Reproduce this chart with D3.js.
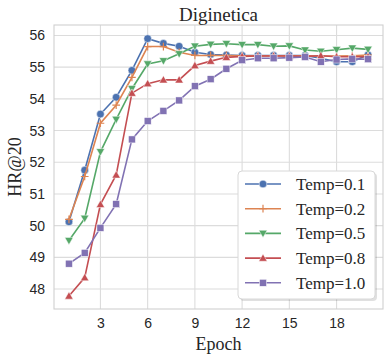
<!DOCTYPE html>
<html><head><meta charset="utf-8">
<script src="https://cdn.jsdelivr.net/npm/d3@7/dist/d3.min.js"></script>
<style>body{margin:0;background:#fff}svg{display:block}</style>
</head><body>
<svg id="c" width="390" height="361"></svg>
<script>
const epochs = d3.range(1, 21);
const seriesNames = ["Temp=0.1", "Temp=0.2", "Temp=0.5", "Temp=0.8", "Temp=1.0"];
const temp01 = [50.12, 51.75, 53.52, 54.05, 54.9, 55.9, 55.75, 55.66, 55.47, 55.4, 55.38, 55.37, 55.37, 55.37, 55.37, 55.37, 55.28, 55.17, 55.17, 55.39];
const temp02 = [50.2, 51.55, 53.23, 53.8, 54.68, 55.65, 55.65, 55.47, 55.37, 55.37, 55.37, 55.36, 55.36, 55.36, 55.36, 55.36, 55.35, 55.35, 55.36, 55.38];
const temp05 = [49.53, 50.23, 52.33, 53.35, 54.32, 55.1, 55.2, 55.42, 55.66, 55.72, 55.74, 55.71, 55.71, 55.66, 55.67, 55.54, 55.5, 55.55, 55.6, 55.56];
const temp08 = [47.78, 48.36, 50.67, 51.6, 54.18, 54.48, 54.6, 54.6, 55.05, 55.19, 55.31, 55.34, 55.35, 55.35, 55.35, 55.34, 55.36, 55.33, 55.33, 55.33];
const temp10 = [48.8, 49.14, 49.93, 50.68, 52.72, 53.3, 53.62, 53.95, 54.4, 54.62, 54.95, 55.22, 55.28, 55.28, 55.3, 55.32, 55.17, 55.24, 55.26, 55.25];
const xTicks = [3, 6, 9, 12, 15, 18];
const yTicks = [48, 49, 50, 51, 52, 53, 54, 55, 56];
const colors = ["#4C72B0", "#DD8452", "#55A868", "#C44E52", "#8172B3"];
const markers = ["circle", "plus", "tridown", "triup", "square"];

const seriesValues = [temp01, temp02, temp05, temp08, temp10];
const svg = d3.select("#c");
const L = 54, R = 383, T = 25, B = 309;
const x = d3.scaleLinear().domain([0.05, 20.95]).range([L, R]);
const y = d3.scaleLinear().domain([47.37, 56.33]).range([B, T]);

// grid
const grid = svg.append("g");
xTicks.forEach(t => grid.append("line").attr("x1", x(t)).attr("x2", x(t)).attr("y1", T).attr("y2", B).attr("stroke", "#dcdcdc").attr("stroke-width", 1.1));
yTicks.forEach(t => grid.append("line").attr("x1", L).attr("x2", R).attr("y1", y(t)).attr("y2", y(t)).attr("stroke", "#dcdcdc").attr("stroke-width", 1.1));
svg.append("rect").attr("x", L).attr("y", T).attr("width", R - L).attr("height", B - T).attr("fill", "none").attr("stroke", "#d0d0d0").attr("stroke-width", 1.1);

// axes (tick labels)
const xa = svg.append("g").attr("transform", `translate(0,${B})`).call(d3.axisBottom(x).tickValues(xTicks).tickSize(0).tickPadding(9));
const ya = svg.append("g").attr("transform", `translate(${L},0)`).call(d3.axisLeft(y).tickValues(yTicks).tickSize(0).tickPadding(9));
[xa, ya].forEach(a => { a.select(".domain").remove(); a.selectAll("text").attr("font-family", "'Liberation Sans', Arial, sans-serif").attr("font-size", 14).attr("fill", "#262626"); });

function drawMarker(g, type, cx, cy, color, s) {
  if (type === "circle") g.append("circle").attr("cx", cx).attr("cy", cy).attr("r", s * 0.55).attr("fill", color).attr("stroke", "#fff").attr("stroke-width", 0.5);
  else if (type === "square") g.append("rect").attr("x", cx - s * 0.5).attr("y", cy - s * 0.5).attr("width", s).attr("height", s).attr("fill", color).attr("stroke", "#fff").attr("stroke-width", 0.5);
  else if (type === "plus") g.append("path").attr("d", `M${cx - s * 0.55},${cy}H${cx + s * 0.55}M${cx},${cy - s * 0.55}V${cy + s * 0.55}`).attr("stroke", color).attr("stroke-width", 1.2).attr("fill", "none");
  else {
    const h = s * 0.6, dir = type === "triup" ? -1 : 1;
    g.append("path").attr("d", `M${cx},${cy + dir * h}L${cx - h},${cy - dir * h * 0.75}L${cx + h},${cy - dir * h * 0.75}Z`).attr("fill", color).attr("stroke", "#fff").attr("stroke-width", 0.5);
  }
}

const line = d3.line().x((d, i) => x(epochs[i])).y(d => y(d));
seriesValues.forEach((vals, k) => {
  const g = svg.append("g");
  g.append("path").datum(vals).attr("d", line).attr("fill", "none").attr("stroke", colors[k]).attr("stroke-width", 1.6);
  vals.forEach((v, i) => drawMarker(g, markers[k], x(epochs[i]), y(v), colors[k], 7));
});

// legend
const lg = svg.append("g");
lg.append("rect").attr("x", 240).attr("y", 173).attr("width", 137).attr("height", 128).attr("rx", 4).attr("fill", "#000").attr("opacity", 0.12);
lg.append("rect").attr("x", 238).attr("y", 171).attr("width", 137).attr("height", 128).attr("rx", 4).attr("fill", "#fff").attr("stroke", "#d8d8d8");
seriesNames.forEach((n, k) => {
  const yy = 184 + k * 24.7;
  lg.append("line").attr("x1", 245).attr("x2", 281).attr("y1", yy).attr("y2", yy).attr("stroke", colors[k]).attr("stroke-width", 1.6);
  drawMarker(lg, markers[k], 263, yy, colors[k], 7);
  lg.append("text").attr("x", 296).attr("y", yy + 6).text(n).attr("font-family", "'Liberation Serif', 'Times New Roman', serif").attr("font-size", 17).attr("fill", "#262626");
});

// labels
svg.append("text").attr("x", (L + R) / 2).attr("y", 21).attr("text-anchor", "middle").text("Diginetica").attr("font-family", "'Liberation Serif', 'Times New Roman', serif").attr("font-size", 19).attr("fill", "#262626");
svg.append("text").attr("x", (L + R) / 2).attr("y", 350).attr("text-anchor", "middle").text("Epoch").attr("font-family", "'Liberation Serif', 'Times New Roman', serif").attr("font-size", 18).attr("fill", "#262626");
svg.append("text").attr("transform", `translate(21,${(T + B) / 2}) rotate(-90)`).attr("text-anchor", "middle").text("HR@20").attr("font-family", "'Liberation Serif', 'Times New Roman', serif").attr("font-size", 18).attr("fill", "#262626");
</script>
</body></html>
